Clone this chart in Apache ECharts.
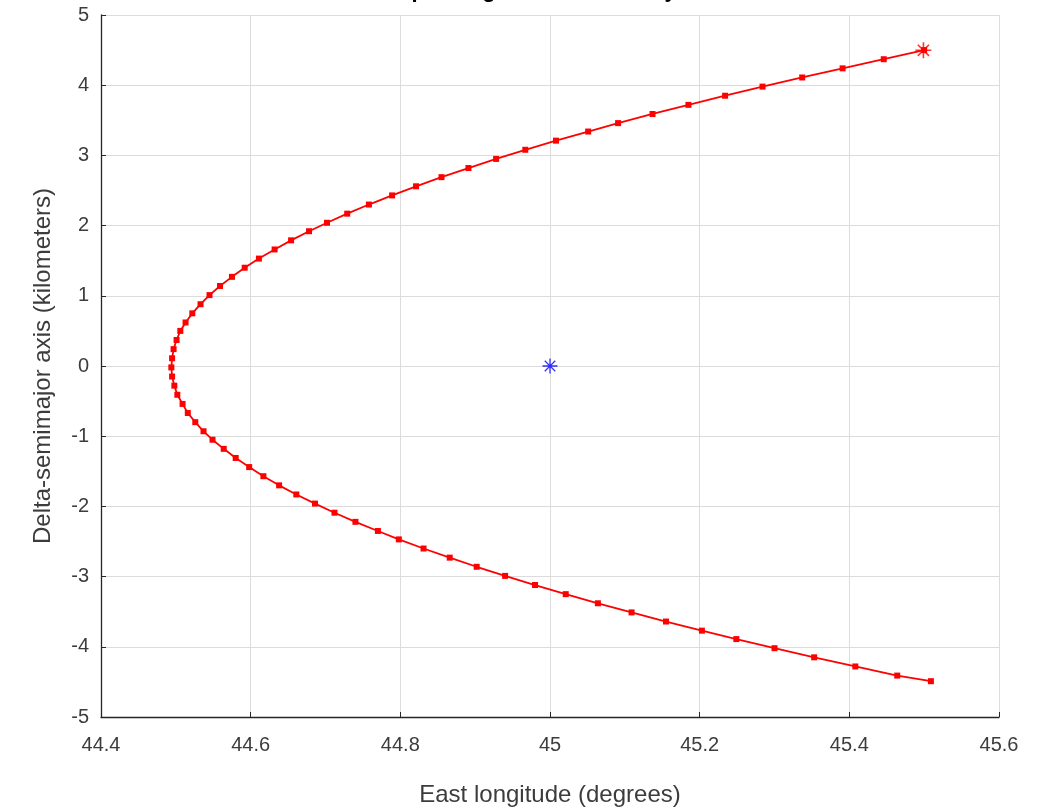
<!DOCTYPE html>
<html>
<head>
<meta charset="utf-8">
<script src="https://cdn.jsdelivr.net/npm/echarts@6/dist/echarts.min.js"></script>
<style>
  html, body { margin: 0; padding: 0; background: #fff; }
  #chart { width: 1048px; height: 812px; }
</style>
</head>
<body>
<div id="chart"></div>
<script>
// 轨迹数据
const longitude = [
  45.50, 45.446, 45.391, 45.337, 45.284, 45.234, 45.185, 45.137, 45.091, 45.051,
  45.008, 44.967, 44.928, 44.891, 44.855, 44.821, 44.789, 44.758, 44.729, 44.702,
  44.678, 44.654, 44.632, 44.611, 44.592, 44.575, 44.559, 44.545, 44.533, 44.522,
  44.513, 44.506, 44.501, 44.497, 44.495, 44.494, 44.495, 44.498, 44.502, 44.509,
  44.516, 44.526, 44.537, 44.549, 44.564, 44.580, 44.598, 44.617, 44.638, 44.661,
  44.686, 44.712, 44.740, 44.770, 44.798, 44.831, 44.866, 44.902, 44.940, 44.980,
  45.021, 45.064, 45.109, 45.155, 45.203, 45.249, 45.300, 45.353, 45.408, 45.464,
  45.509
]
const deltaSma = [
  4.50, 4.37, 4.24, 4.11, 3.98, 3.85, 3.72, 3.59, 3.46, 3.34,
  3.21, 3.08, 2.95, 2.82, 2.69, 2.56, 2.43, 2.30, 2.17, 2.04,
  1.92, 1.79, 1.66, 1.53, 1.40, 1.27, 1.14, 1.01, 0.88, 0.75,
  0.62, 0.50, 0.37, 0.24, 0.11, -0.02, -0.15, -0.28, -0.41, -0.54,
  -0.67, -0.80, -0.93, -1.05, -1.18, -1.31, -1.44, -1.57, -1.70, -1.83,
  -1.96, -2.09, -2.22, -2.35, -2.47, -2.60, -2.73, -2.86, -2.99, -3.12,
  -3.25, -3.38, -3.51, -3.64, -3.77, -3.89, -4.02, -4.15, -4.28, -4.41,
  -4.49
]
const startPoint = [45.499, 4.497]
const stationPoint = [45.0, 0]

const xTicks = { min: 44.4, max: 45.6, interval: 0.2 }
const yTicks = { min: -5, max: 5, interval: 1 }

// 星号符号
const asterisk = 'path://M0,-10L0,10M-10,0L10,0M-7,-7L7,7M-7,7L7,-7'

const chartDom = document.getElementById('chart')
const chart = echarts.init(chartDom)

const textColor = '#3c3c3c'
const fontFamily = 'Liberation Sans, Arial, sans-serif'

const options = {
  animation: false,
  backgroundColor: '#fff',
  title: {
    text: 'Sample longitude drift history',
    left: 360,
    top: -25,
    textStyle: { fontFamily, fontWeight: 'bold', fontSize: 22, color: '#000' }
  },
  grid: { left: 101, right: 49, top: 15, bottom: 93, containLabel: false },
  xAxis: {
    type: 'value',
    min: xTicks.min,
    max: xTicks.max,
    interval: xTicks.interval,
    name: 'East longitude (degrees)',
    nameLocation: 'middle',
    nameGap: 66,
    nameTextStyle: { fontFamily, fontSize: 24, color: textColor },
    axisLine: { show: true, onZero: false, lineStyle: { color: '#262626', width: 1.3 } },
    axisTick: { show: true, inside: true, length: 5, lineStyle: { color: '#262626' } },
    axisLabel: {
      fontFamily, fontSize: 20, color: textColor, margin: 18,
      formatter: v => String(Math.round(v * 10) / 10)
    },
    splitLine: { show: true, lineStyle: { color: '#dcdcdc', width: 1 } }
  },
  yAxis: {
    type: 'value',
    min: yTicks.min,
    max: yTicks.max,
    interval: yTicks.interval,
    name: 'Delta-semimajor axis (kilometers)',
    nameLocation: 'middle',
    nameGap: 46,
    nameTextStyle: { fontFamily, fontSize: 24, color: textColor },
    axisLine: { show: true, onZero: false, lineStyle: { color: '#262626', width: 1.3 } },
    axisTick: { show: true, inside: true, length: 5, lineStyle: { color: '#262626' } },
    axisLabel: { fontFamily, fontSize: 20, color: textColor, margin: 12 },
    splitLine: { show: true, lineStyle: { color: '#dcdcdc', width: 1 } }
  },
  series: [
    {
      type: 'line',
      data: longitude.map((x, i) => [x, deltaSma[i]]),
      showAllSymbol: true,
      symbol: 'rect',
      symbolSize: 6,
      lineStyle: { color: '#ff0000', width: 1.8 },
      itemStyle: { color: '#ff0000' },
      z: 3
    },
    {
      type: 'scatter',
      data: [startPoint],
      symbol: asterisk,
      symbolSize: 16,
      itemStyle: { color: 'none', borderColor: '#ff0000', borderWidth: 1.6 },
      z: 4
    },
    {
      type: 'scatter',
      data: [stationPoint],
      symbol: asterisk,
      symbolSize: 15,
      itemStyle: { color: 'none', borderColor: '#0000ff', borderWidth: 1.3 },
      z: 4
    }
  ]
}

chart.setOption(options, true)
</script>
</body>
</html>
